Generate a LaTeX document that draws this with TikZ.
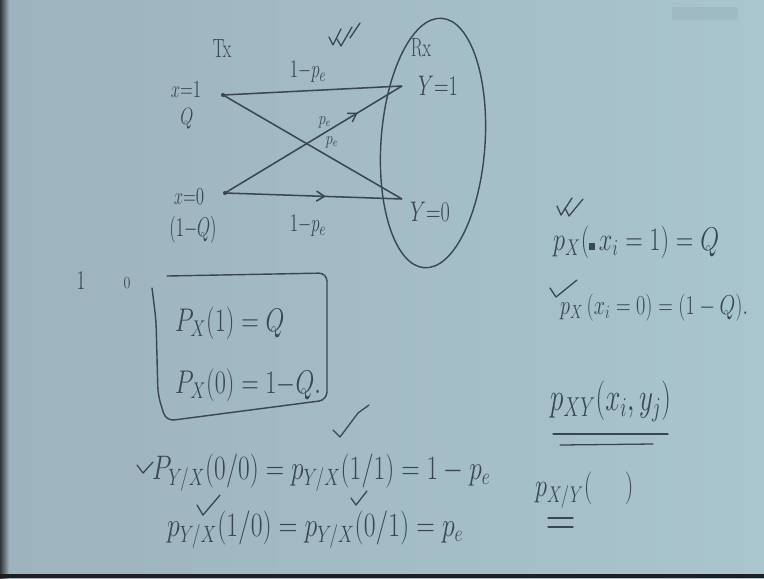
\documentclass[tikz,border=0pt]{standalone}
\usetikzlibrary{shapes.geometric,arrows.meta,decorations.markings}
\definecolor{ink}{HTML}{3A4650}
\definecolor{board}{HTML}{A9C5CE}
\definecolor{boardL}{HTML}{9DB3BD}
\newcommand\hw[2][1.35]{\scalebox{1}[#1]{#2}}
\newcommand\hwxy[3]{\scalebox{#1}[#2]{#3}}
\tikzset{
  wire/.style={draw=ink, line width=1.3pt},
  stroke/.style={draw=ink, line width=1.1pt, line cap=round, line join=round},
  dot/.style={circle, fill=ink, inner sep=0pt, minimum size=3.5pt},
  lab/.style={text=ink, inner sep=0pt},
  small/.style={lab, font=\fontsize{15}{17}\selectfont},
  tiny/.style={lab, font=\fontsize{12}{14}\selectfont},
  big/.style={lab, font=\fontsize{21}{25}\selectfont, anchor=west},
  mid/.style={lab, font=\fontsize{19}{23}\selectfont, anchor=west},
  midarrow/.style={postaction={decorate}, decoration={markings,
      mark=at position #1 with {\arrow{Straight Barb[length=2.4mm,width=3mm]}}}}
}
\begin{document}
\begin{tikzpicture}[x=0.03cm, y=-0.03cm]
% board
\useasboundingbox (0,0) rectangle (764,578);
\shade[left color=boardL, right color=board] (0,0) rectangle (764,578);
\shade[left color=black!70!boardL, right color=boardL] (0,0) rectangle (9,578);
\fill[black!88] (0,574) rectangle (764,578);
\fill[boardL!80!black, opacity=0.18, rounded corners=2pt] (672,7) rectangle (738,20);

% channel diagram
\node[small] (tx) at (222,49) {\hw[1.5]{Tx}};
\node[small] (rx) at (421,48) {\hw[1.5]{Rx}};
\node[draw=ink, line width=1.2pt, ellipse, minimum width=3.12cm, minimum height=7.5cm, rotate=-4] (rxset) at (433,143) {};

\node[dot] (x1) at (223,95) {};
\node[dot] (x0) at (225,193) {};
\coordinate (y1) at (402,86);
\coordinate (y0) at (402,199);

\node[small] (lx1) at (186,90) {\hw[1.45]{$x{=}1$}};
\node[small] (lq) at (187,119) {\hw[1.4]{$Q$}};
\node[small] (lx0) at (189,197) {\hw[1.45]{$x{=}0$}};
\node[small] (lq0) at (193,230) {\hw[1.6]{$(1{-}Q)$}};
\node[small, font=\fontsize{17}{19}\selectfont] (ly1) at (438,86) {\hw[1.4]{$Y{=}1$}};
\node[small, font=\fontsize{17}{19}\selectfont] (ly0) at (430,212) {\hw[1.4]{$Y{=}0$}};

\draw[wire] (x1.center) -- (y1);
\draw[wire] (x1.center) -- (y0);
\draw[wire, midarrow=0.75] (x0.center) -- (y1);
\draw[wire, midarrow=0.57] (x0.center) -- (y0);

\node[small] (top) at (308,72) {\hw[1.5]{$1{-}p_e$}};
\node[small] (bot) at (308,226) {\hw[1.5]{$1{-}p_e$}};
\node[tiny] (pe1) at (325,122) {\hw[1.3]{$p_e$}};
\node[tiny] (pe2) at (332,142) {\hw[1.3]{$p_e$}};
% double tick near top
\draw[stroke] (329,37) -- (333,45) -- (341,29);
\draw[stroke] (337,39) -- (341,46) -- (352,27);
\draw[stroke] (350,38) -- (360,23);

% 1 0 and box
\node[small] (one) at (81,281) {\hw[1.6]{$1$}};
\node[tiny] (zero) at (127,283) {\hw[1.2]{$0$}};
\draw[stroke, line width=1.2pt, rounded corners=7pt]
  (167,276) -- (327,273) -- (327,400) -- (166,421) -- (158,395) -- (156,320) -- (152,288);
\node[big] (px1) at (175,323) {\hw{$P_X(1) = Q$}};
\node[big] (px0) at (175,385) {\hw{$P_X(0) = 1{-}Q.$}};

% conditional probabilities
\node[big] (c1) at (152,473) {\hwxy{1.045}{1.4}{$P_{Y/X}(0/0) = p_{Y/X}(1/1) = 1-p_e$}};
\node[big] (c2) at (167,530) {\hwxy{1.06}{1.4}{$p_{Y/X}(1/0) = p_{Y/X}(0/1) = p_e$}};
\draw[stroke] (137,465) -- (143,473) -- (153,462);
\draw[stroke] (333,430) -- (340,437) -- (358,413) -- (369,405);
\draw[stroke] (197,505) -- (203,515) -- (220,495);
\draw[stroke] (351,498) -- (356,505) -- (367,491);

% right column
\node[mid, font=\fontsize{20.5}{24}\selectfont] (r1) at (553,242) {\hw{$p_X(\rule{1.6mm}{1.6mm}\,x_i=1) = Q$}};
\node[mid, font=\fontsize{18}{22}\selectfont] (r2) at (560,308) {\hw{$p_X\,(x_i=0) = (1-Q).$}};
\draw[stroke] (557,206) -- (561,215) -- (572,198);
\draw[stroke] (565,208) -- (569,216) -- (583,199);
\draw[stroke] (550,288) -- (556,297) -- (577,280);

\node[mid, font=\fontsize{23}{27}\selectfont] (pxy) at (550,401) {\hwxy{0.93}{1.35}{$p_{XY}(x_i, y_j)$}};
\draw[stroke] (553,434) -- (668,434);
\draw[stroke] (560,445) -- (653,444);
\node[mid, font=\fontsize{22}{26}\selectfont] (pxgy) at (535,490) {\hw{$p_{X/Y}(\;\quad)$}};
\draw[stroke] (548,518) -- (573,518);
\draw[stroke] (548,527) -- (573,527);
\end{tikzpicture}
\end{document}
